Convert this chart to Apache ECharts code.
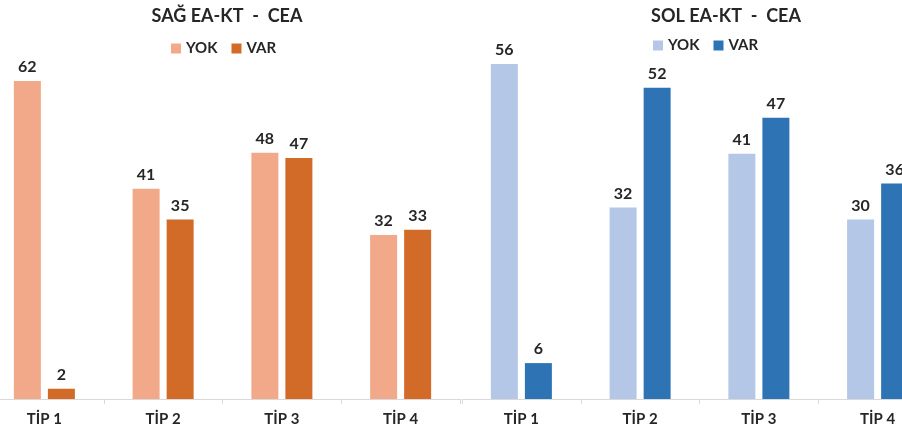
<!DOCTYPE html>
<html>
<head>
<meta charset="utf-8">
<script src="https://cdn.jsdelivr.net/npm/echarts@6/dist/echarts.min.js"></script>
<style>
html,body{margin:0;padding:0;background:#fff;}
#c{width:902px;height:437px;}
</style>
</head>
<body>
<div id="c"></div>
<script>
const categories = ['TİP 1', 'TİP 2', 'TİP 3', 'TİP 4'];
const seriesNames = ['YOK', 'VAR'];
const sagYok = [62, 41, 48, 32];
const sagVar = [2, 35, 47, 33];
const solYok = [56, 32, 41, 30];
const solVar = [6, 52, 47, 36];
const titles = ['SAĞ EA-KT  -  CEA', 'SOL EA-KT  -  CEA'];

const FONT = 'Lato';
const chart = echarts.init(document.getElementById('c'), null, {renderer: 'canvas'});

const labelStyle = {show: true, position: 'top', distance: 6, color: '#262626', fontFamily: FONT, fontWeight: 'bold', fontSize: 16};

function bar(name, data, color, idx) {
  return {
    type: 'bar', name: name, data: data, xAxisIndex: idx, yAxisIndex: idx,
    barWidth: 27, barGap: '26%',
    itemStyle: {color: color},
    label: labelStyle,
    emphasis: {disabled: true}
  };
}

const xAxisBase = {
  type: 'category', data: categories,
  axisLine: {lineStyle: {color: '#d9d9d9', width: 1}},
  axisTick: {show: true, length: 5, lineStyle: {color: '#d9d9d9'}},
  axisLabel: {color: '#262626', fontFamily: FONT, fontWeight: 'bold', fontSize: 15, margin: 13}
};

chart.setOption({
  animation: false,
  title: [
    {text: titles[0], left: 222, top: 2, textAlign: 'center', textStyle: {fontFamily: FONT, fontWeight: 'bold', fontSize: 18, color: '#262626'}},
    {text: titles[1], left: 721, top: 2, textAlign: 'center', textStyle: {fontFamily: FONT, fontWeight: 'bold', fontSize: 18, color: '#262626'}}
  ],
  legend: [
    {data: ['YOK', 'VAR'].map(n=>({name: 'sag_' + n})), left: 166, top: 36, itemWidth: 10, itemHeight: 10, itemGap: 14, icon: 'rect',
     formatter: n => n.replace('sag_', ''),
     textStyle: {fontFamily: FONT, fontWeight: 'bold', fontSize: 15, color: '#262626'}},
    {data: ['YOK', 'VAR'].map(n=>({name: 'sol_' + n})), left: 648, top: 33, itemWidth: 10, itemHeight: 10, itemGap: 14, icon: 'rect',
     formatter: n => n.replace('sol_', ''),
     textStyle: {fontFamily: FONT, fontWeight: 'bold', fontSize: 15, color: '#262626'}}
  ],
  grid: [
    {left: -15, width: 475, top: 40, bottom: 38, containLabel: false, outerBoundsMode: 'none'},
    {left: 462, width: 475, top: 40, bottom: 38, containLabel: false, outerBoundsMode: 'none'}
  ],
  xAxis: [
    Object.assign({gridIndex: 0}, xAxisBase),
    Object.assign({gridIndex: 1}, xAxisBase)
  ],
  yAxis: [
    {gridIndex: 0, type: 'value', min: 0, max: 70, show: false, splitLine: {show: false}},
    {gridIndex: 1, type: 'value', min: 0, max: 60, show: false, splitLine: {show: false}}
  ],
  series: [
    bar('sag_' + seriesNames[0], sagYok, '#F2A98A', 0),
    bar('sag_' + seriesNames[1], sagVar, '#D26A28', 0),
    bar('sol_' + seriesNames[0], solYok, '#B4C7E7', 1),
    bar('sol_' + seriesNames[1], solVar, '#2E74B5', 1)
  ]
});
</script>
</body>
</html>
